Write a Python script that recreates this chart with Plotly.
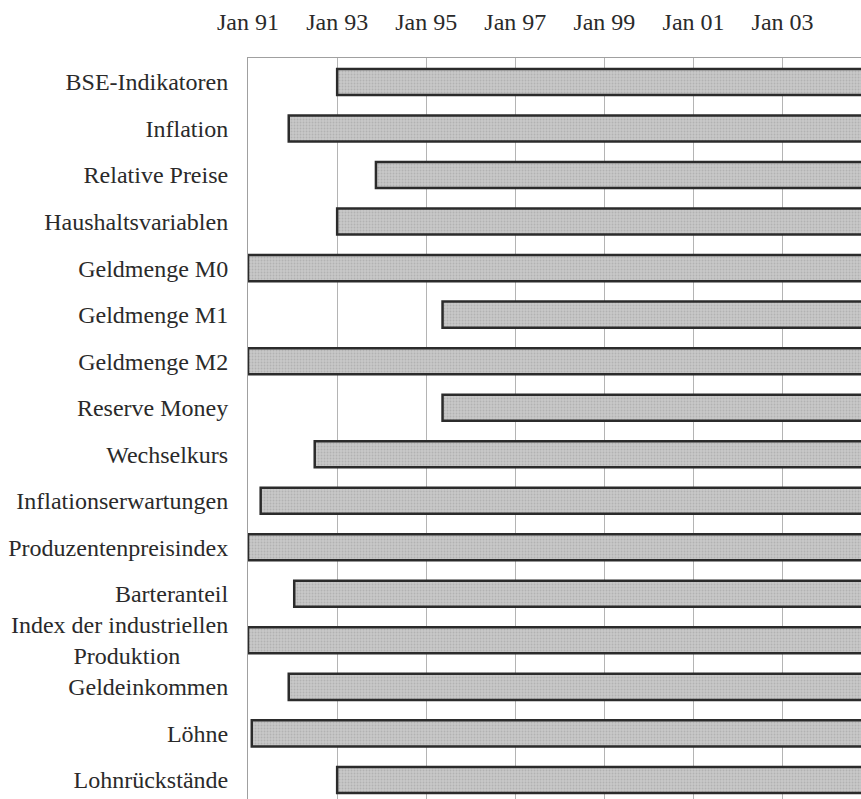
import pandas as pd
import plotly.graph_objects as go

kategorien = [
    "BSE-Indikatoren", "Inflation", "Relative Preise", "Haushaltsvariablen",
    "Geldmenge M0", "Geldmenge M1", "Geldmenge M2", "Reserve Money",
    "Wechselkurs", "Inflationserwartungen", "Produzentenpreisindex",
    "Barteranteil", "Index der industriellen<br>Produktion" + "&nbsp;" * 8,
    "Geldeinkommen", "Löhne", "Lohnrückstände",
]
beginn = [
    "1993-01-01", "1991-12-01", "1993-11-15", "1993-01-01",
    "1991-01-01", "1995-05-15", "1991-01-01", "1995-05-15",
    "1992-07-01", "1991-04-15", "1991-01-01",
    "1992-01-15", "1991-01-01",
    "1991-12-01", "1991-02-01", "1993-01-01",
]
ende = ["2005-01-01"] * len(kategorien)

start = pd.to_datetime(beginn)
dauer = (pd.to_datetime(ende) - start).total_seconds() * 1000

fig = go.Figure(go.Bar(
    y=kategorien, base=start, x=dauer, orientation="h", width=0.56,
    marker=dict(color="#c0c0c0", line=dict(color="#2b2b2b", width=2.5),
                pattern=dict(shape=".", size=3, solidity=0.3, fgcolor="#9c9c9c", bgcolor="#c8c8c8")),
    hoverinfo="skip",
))

fig.update_layout(
    width=861, height=799, margin=dict(l=248, r=0, t=58, b=0),
    plot_bgcolor="white", paper_bgcolor="white", showlegend=False,
    font=dict(family="Liberation Serif, Times New Roman, serif", size=24, color="#2a2a2a"),
)
fig.update_xaxes(
    type="date", side="top", range=["1991-01-01", "2004-10-05"],
    tick0="1991-01-01", dtick="M24", tickformat="%b %y",
    showgrid=True, gridcolor="#b4b4b4", gridwidth=1,
    showline=True, linecolor="#a0a0a0", linewidth=1,
    ticks="outside", ticklen=17, tickcolor="rgba(0,0,0,0)",
)
fig.update_yaxes(
    type="category", range=[15.41, -0.516], showgrid=False,
    showline=True, linecolor="#a0a0a0", linewidth=1,
    ticks="outside", ticklen=14, tickcolor="rgba(0,0,0,0)",
)

fig.write_html("out.html", config={"displayModeBar": False},
               post_script="document.body.style.margin='0';")
